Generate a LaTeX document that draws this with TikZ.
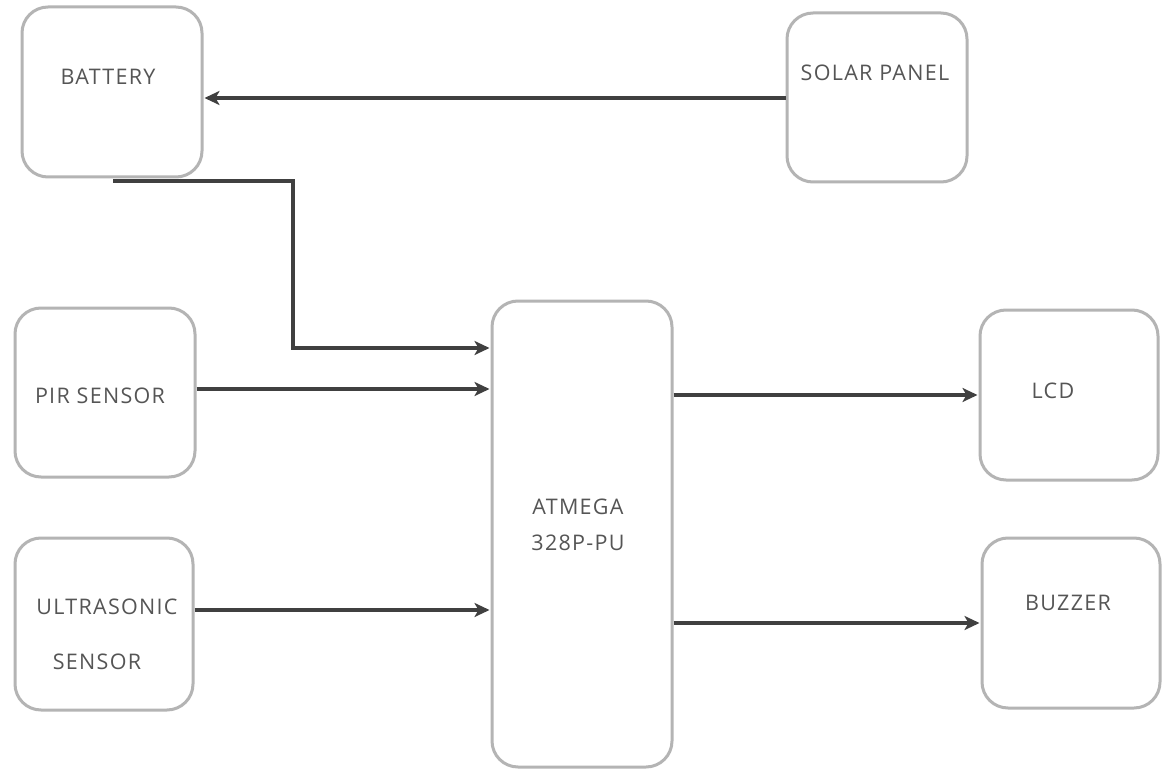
\documentclass[tikz,border=0pt]{standalone}
\usepackage{fontspec}
\setmainfont[LetterSpace=6]{Open Sans}
\usetikzlibrary{arrows.meta,calc}
\definecolor{boxgray}{HTML}{B4B4B4}
\definecolor{txtgray}{HTML}{555555}
\definecolor{arrgray}{HTML}{404040}
\tikzset{
  blk/.style={draw=boxgray, line width=3pt, rounded corners=26pt, inner sep=0pt},
  lbl/.style={text=txtgray, font=\fontsize{21.5}{26}\selectfont, inner sep=0pt, align=center},
  arr/.style={draw=arrgray, line width=4pt, -{Stealth[length=15pt,width=14pt,inset=4pt]}, shorten >=1pt},
}
\begin{document}
\begin{tikzpicture}[x=1pt,y=-1pt]
\useasboundingbox[fill=white] (0,0) rectangle (1167,770);
% boxes
\node[blk, minimum width=180pt, minimum height=170pt] (battery) at (112,92) {};
\node[blk, minimum width=180pt, minimum height=169pt] (solar) at (877,97.5) {};
\node[blk, minimum width=180pt, minimum height=169pt] (pir) at (105,392.5) {};
\node[blk, minimum width=178pt, minimum height=172pt] (ultra) at (104,624) {};
\node[blk, minimum width=180pt, minimum height=466pt] (atmega) at (582,534) {};
\node[blk, minimum width=178pt, minimum height=170pt] (lcd) at (1069,395) {};
\node[blk, minimum width=178pt, minimum height=170pt] (buzzer) at (1071,623) {};
% labels
\node[lbl] (batteryt) at (108,77) {BATTERY};
\node[lbl] (solart) at (875,73) {SOLAR PANEL};
\node[lbl] (pirt) at (100,396) {PIR SENSOR};
\node[lbl] (ultrat) at (107,607) {ULTRASONIC};
\node[lbl] (ultrat2) at (97,662) {SENSOR};
\node[lbl] (atmegat) at (578,507) {ATMEGA};
\node[lbl] (atmegat2) at (578,543) {328P-PU};
\node[lbl] (lcdt) at (1053,391) {LCD};
\node[lbl] (buzzert) at (1068,603) {BUZZER};
% connectors
\draw[arr] (solar.west |- 0,98) -- (battery.east |- 0,98);
\draw[arr] ([shift={(1,3)}]battery.south) -| (293,348) -- (atmega.west |- 0,348);
\draw[arr] (pir.east |- 0,389) -- (atmega.west |- 0,389);
\draw[arr] (ultra.east |- 0,610) -- (atmega.west |- 0,610);
\draw[arr] (atmega.east |- 0,395) -- (lcd.west |- 0,395);
\draw[arr] (atmega.east |- 0,623) -- (buzzer.west |- 0,623);
\end{tikzpicture}
\end{document}
